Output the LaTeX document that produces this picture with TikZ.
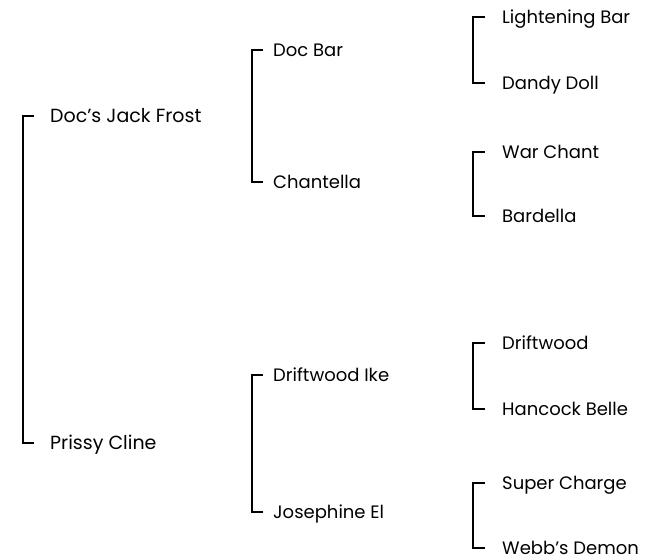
\documentclass[tikz,border=0pt]{standalone}
\usepackage{fontspec}
\setmainfont{Poppins}
\begin{document}
\begin{tikzpicture}[x=1pt,y=-1pt,
  pname/.style={anchor=west,inner sep=0pt,text height=12.6pt,text depth=0pt,font=\fontsize{18}{20}\selectfont},
  bigname/.style={pname,text height=13.3pt,font=\fontsize{19}{21}\selectfont},
  br/.style={line width=1.8pt,line cap=butt,line join=miter}]
\useasboundingbox (0,0) rectangle (647,556);
% generation 1
\node[bigname] (g1a) at (50,116) {Doc’s Jack Frost};
\node[bigname] (g1b) at (50,443) {Prissy Cline};
% generation 2
\node[pname] (g2a) at (273,50) {Doc Bar};
\node[pname] (g2b) at (273,182) {Chantella};
\node[pname] (g2c) at (273,375) {Driftwood Ike};
\node[pname] (g2d) at (273,512) {Josephine El};
% generation 3
\node[pname] (g3a) at (502,17) {Lightening Bar};
\node[pname] (g3b) at (502,83) {Dandy Doll};
\node[pname] (g3c) at (502,152) {War Chant};
\node[pname] (g3d) at (502,216) {Bardella};
\node[pname] (g3e) at (502,343) {Driftwood};
\node[pname] (g3f) at (502,409) {Hancock Belle};
\node[pname] (g3g) at (502,483) {Super Charge};
\node[pname] (g3h) at (502,548) {Webb’s Demon};
% brackets
\draw[br] ([xshift=-16]g1a.west) -- ([xshift=-27]g1a.west) -- ([xshift=-27]g1b.west) -- ([xshift=-16]g1b.west);
\foreach \a/\b in {g2a/g2b,g2c/g2d}
  \draw[br] ([xshift=-10]\a.west) -- ([xshift=-21]\a.west) -- ([xshift=-21]\b.west) -- ([xshift=-10]\b.west);
\foreach \a/\b in {g3a/g3b,g3c/g3d,g3e/g3f,g3g/g3h}
  \draw[br] ([xshift=-17]\a.west) -- ([xshift=-29]\a.west) -- ([xshift=-29]\b.west) -- ([xshift=-17]\b.west);
\end{tikzpicture}
\end{document}
